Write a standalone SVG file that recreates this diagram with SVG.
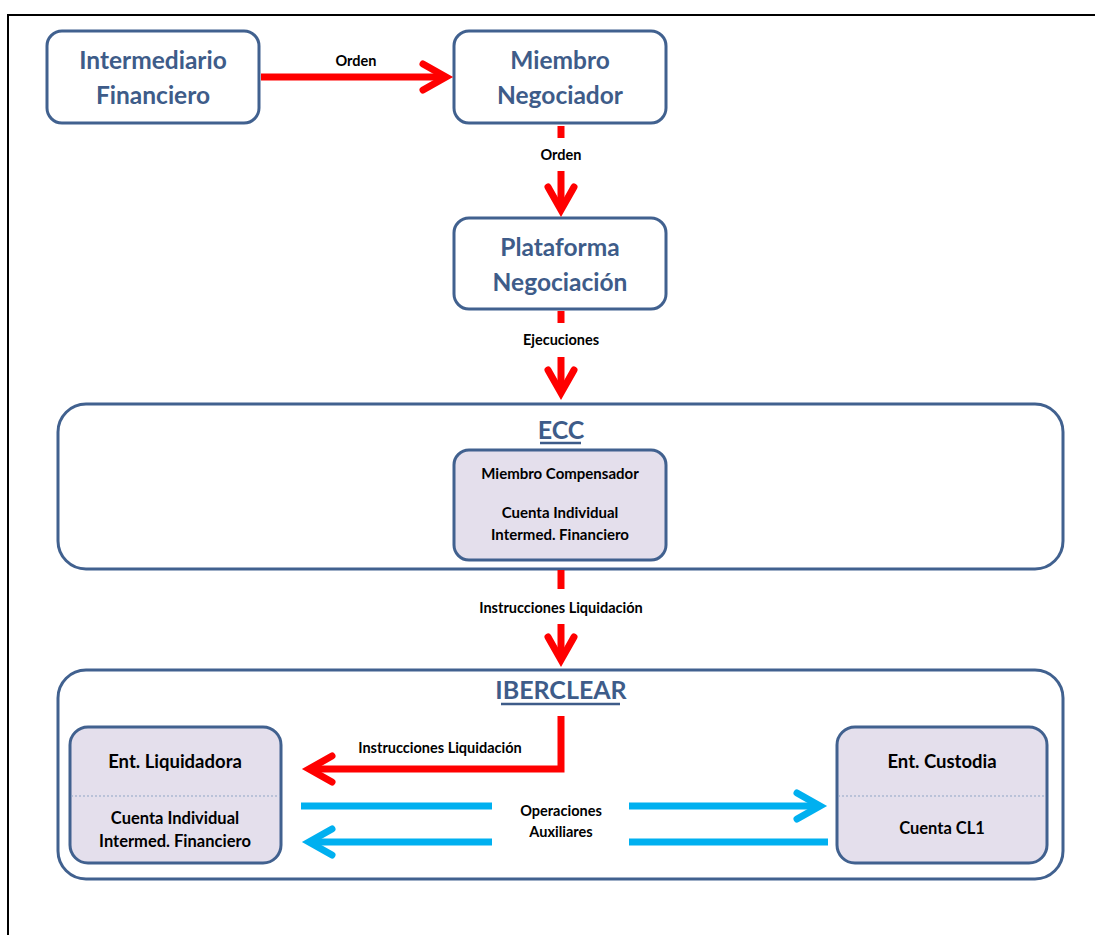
<svg xmlns="http://www.w3.org/2000/svg" width="1095" height="935" viewBox="0 0 1095 935">
<style>
.box{fill:#fff;stroke:#41618F;stroke-width:3}
.inner{fill:#E4DFEC;stroke:#41618F;stroke-width:3}
.title{font-family:Lato,"Liberation Sans",sans-serif;font-weight:bold;font-size:24.5px;fill:#3E5C89;text-anchor:middle}
.head{font-family:Lato,"Liberation Sans",sans-serif;font-weight:bold;font-size:25px;fill:#3E5C89;text-anchor:middle}
.lbl{font-family:Lato,"Liberation Sans",sans-serif;font-weight:bold;font-size:14.5px;fill:#000;text-anchor:middle}
.in{font-family:Lato,"Liberation Sans",sans-serif;font-weight:bold;font-size:15px;fill:#000;text-anchor:middle}
.in2{font-family:Lato,"Liberation Sans",sans-serif;font-weight:bold;font-size:16.5px;fill:#000;text-anchor:middle}
.in3{font-family:Lato,"Liberation Sans",sans-serif;font-weight:bold;font-size:18.5px;fill:#000;text-anchor:middle}
.ul{stroke:#3E5C89;stroke-width:2.5}
.red{fill:none;stroke:#FF0000;stroke-width:7;marker-end:url(#ah-red)}
.redp{fill:none;stroke:#FF0000;stroke-width:7}
.blue{fill:none;stroke:#00B0F0;stroke-width:7;marker-end:url(#ah-blue)}
.bluep{fill:none;stroke:#00B0F0;stroke-width:7}
.div{stroke:#8FA5C5;stroke-width:1;stroke-dasharray:2 2}
</style>
<defs>
<marker id="ah-red" markerUnits="userSpaceOnUse" viewBox="-30 -20 40 40" markerWidth="40" markerHeight="40" refX="-3" refY="0" orient="auto" overflow="visible">
<path d="M-24,-13 L-1,0 L-24,13" fill="none" stroke="#FF0000" stroke-width="7" stroke-linecap="round" stroke-linejoin="miter"/>
</marker>
<marker id="ah-blue" markerUnits="userSpaceOnUse" viewBox="-30 -20 40 40" markerWidth="40" markerHeight="40" refX="-3" refY="0" orient="auto" overflow="visible">
<path d="M-24,-13 L-1,0 L-24,13" fill="none" stroke="#00B0F0" stroke-width="7" stroke-linecap="round" stroke-linejoin="miter"/>
</marker>
</defs>
<rect width="1095" height="935" fill="#fff"/>
<path d="M8,935 V15 H1095" fill="none" stroke="#000" stroke-width="2"/>

<g id="ecc">
<rect class="box" x="58" y="404" width="1005" height="165" rx="28"/>
<text class="head" x="561" y="439">ECC</text>
<line class="ul" x1="540" y1="443" x2="581" y2="443"/>
</g>
<g id="iberclear">
<rect class="box" x="58" y="670" width="1005" height="209" rx="28"/>
<text class="head" x="561" y="699">IBERCLEAR</text>
<line class="ul" x1="501" y1="704" x2="620" y2="704"/>
</g>

<g id="intermediario">
<rect class="box" x="47" y="31" width="212" height="92" rx="15"/>
<text class="title" x="153" y="69">Intermediario</text>
<text class="title" x="153" y="104">Financiero</text>
</g>
<g id="miembro-negociador">
<rect class="box" x="454" y="31" width="212" height="92" rx="15"/>
<text class="title" x="560" y="69">Miembro</text>
<text class="title" x="560" y="104">Negociador</text>
</g>
<g id="plataforma">
<rect class="box" x="454" y="218" width="212" height="91" rx="15"/>
<text class="title" x="560" y="256">Plataforma</text>
<text class="title" x="560" y="291">Negociación</text>
</g>
<g id="miembro-compensador">
<rect class="inner" x="454" y="450" width="212" height="110" rx="15"/>
<text class="in" x="560" y="479">Miembro Compensador</text>
<text class="in" x="560" y="518">Cuenta Individual</text>
<text class="in" x="560" y="540">Intermed. Financiero</text>
</g>
<g id="ent-liquidadora">
<rect class="inner" x="70" y="727" width="211" height="136" rx="18"/>
<line class="div" x1="71" y1="796" x2="280" y2="796"/>
<text class="in3" x="175" y="768">Ent. Liquidadora</text>
<text class="in2" x="175" y="824">Cuenta Individual</text>
<text class="in2" x="175" y="847">Intermed. Financiero</text>
</g>
<g id="ent-custodia">
<rect class="inner" x="837" y="727" width="210" height="136" rx="18"/>
<line class="div" x1="838" y1="796" x2="1046" y2="796"/>
<text class="in3" x="942" y="768">Ent. Custodia</text>
<text class="in2" x="942" y="834">Cuenta CL1</text>
</g>

<g id="connectors">
<line class="red" x1="261" y1="77" x2="444" y2="77"/>
<text class="lbl" x="356" y="66">Orden</text>

<line class="redp" x1="561" y1="126" x2="561" y2="138"/>
<line class="red" x1="561" y1="171" x2="561" y2="208"/>
<text class="lbl" x="561" y="160">Orden</text>

<line class="redp" x1="561" y1="311" x2="561" y2="323"/>
<line class="red" x1="561" y1="357" x2="561" y2="391"/>
<text class="lbl" x="561" y="345">Ejecuciones</text>

<line class="redp" x1="561" y1="570" x2="561" y2="589"/>
<line class="red" x1="561" y1="624" x2="561" y2="658"/>
<text class="lbl" x="561" y="613">Instrucciones Liquidación</text>

<polyline class="red" points="561,716 561,769 311,769" stroke-linejoin="miter"/>
<text class="lbl" x="440" y="753">Instrucciones Liquidación</text>

<line class="bluep" x1="301" y1="806" x2="492" y2="806"/>
<line class="blue" x1="629" y1="806" x2="818" y2="806"/>
<line class="bluep" x1="828" y1="842" x2="629" y2="842"/>
<line class="blue" x1="492" y1="842" x2="311" y2="842"/>
<text class="lbl" x="561" y="816">Operaciones</text>
<text class="lbl" x="561" y="837">Auxiliares</text>
</g>
</svg>
